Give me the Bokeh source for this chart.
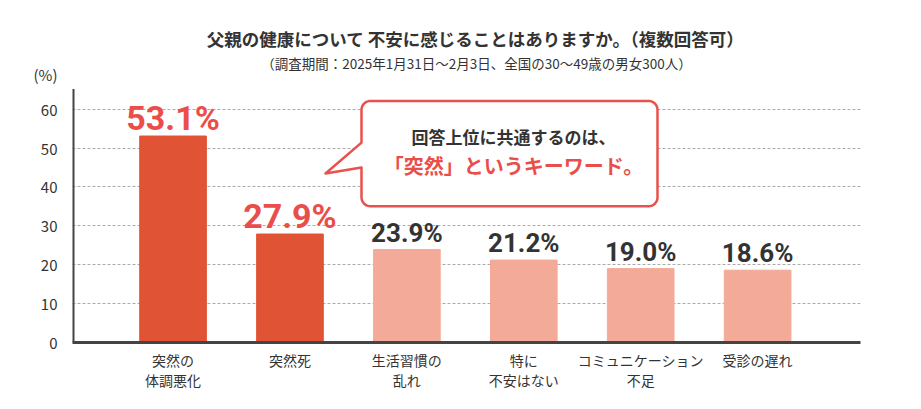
from bokeh.plotting import figure
from bokeh.models import Range1d, FixedTicker, Label, ColumnDataSource
from bokeh.core.properties import value
from bokeh.embed import file_html
from bokeh.resources import INLINE
import math

categories = ["突然の\n体調悪化", "突然死", "生活習慣の\n乱れ", "特に\n不安はない", "コミュニケーション\n不足", "受診の遅れ"]
values = [53.1, 27.9, 23.9, 21.2, 19.0, 18.6]
value_labels = ["53.1%", "27.9%", "23.9%", "21.2%", "19.0%", "18.6%"]
highlight = [True, True, False, False, False, False]
y_ticks = [0, 10, 20, 30, 40, 50, 60]
y_max = 65.2
unit_label = "(%)"
title_text = "父親の健康について 不安に感じることはありますか。（複数回答可）"
subtitle_text = "（調査期間：2025年1月31日〜2月3日、全国の30〜49歳の男女300人）"
bubble_line1 = "回答上位に共通するのは、"
bubble_line2 = "「突然」というキーワード。"

DARK = "#E05334"
LIGHT = "#F4AA98"
RED_TXT = "#EA4E4B"
GRAY_TXT = "#333333"
JP = "Noto Sans CJK JP"

W, H = 905, 393
# frame edges in figure pixels
FL, FR, FT, FB = 72, 860, 0, 344
AX_TOP_PX = 89          # pixel where the value axis ends (y_max)
X0, X1 = -0.86, 5.88
PER_PX = y_max / (FB - AX_TOP_PX)
Y0, Y1 = 0, (FB - FT) * PER_PX

def px2x(px):
    return X0 + (px - FL) / (FR - FL) * (X1 - X0)

def py2y(py):
    return (FB - py) * PER_PX

p = figure(width=W, height=H, output_backend="svg", toolbar_location=None,
           x_range=Range1d(X0, X1), y_range=Range1d(Y0, Y1),
           min_border_left=FL, min_border_right=W - FR,
           min_border_top=FT, min_border_bottom=H - FB)
p.outline_line_color = None
p.background_fill_color = "white"
p.border_fill_color = "white"

# y axis: ticks plus unit label slot
unit_pos = round(py2y(74), 2)
p.yaxis.ticker = FixedTicker(ticks=y_ticks + [unit_pos])
p.yaxis.major_label_overrides = {unit_pos: unit_label}
p.yaxis.axis_line_color = None
p.yaxis.major_tick_line_color = None
p.yaxis.minor_tick_line_color = None
p.yaxis.major_label_text_font = JP
p.yaxis.major_label_text_font_size = "15px"
p.yaxis.major_label_text_color = GRAY_TXT
p.yaxis.major_label_standoff = 9

p.segment(x0=[X0], y0=[0], x1=[X0], y1=[y_max], line_color="#444444", line_width=4)

p.xaxis.ticker = FixedTicker(ticks=list(range(len(categories))))
p.xaxis.major_label_overrides = {i: c for i, c in enumerate(categories)}
p.xaxis.axis_line_color = "#444444"
p.xaxis.axis_line_width = 3
p.xaxis.major_tick_line_color = None
p.xaxis.minor_tick_line_color = None
p.xaxis.major_label_text_font = JP
p.xaxis.major_label_text_font_size = "14px"
p.xaxis.major_label_text_color = GRAY_TXT
p.xaxis.major_label_standoff = 1
p.xaxis.major_label_text_line_height = 1.03

p.xgrid.grid_line_color = None
p.ygrid.ticker = FixedTicker(ticks=[t for t in y_ticks if t > 0])
p.ygrid.grid_line_color = "#AAAAAA"
p.ygrid.grid_line_dash = "3 2"
p.ygrid.grid_line_width = 1

colors = [DARK if h else LIGHT for h in highlight]
src = ColumnDataSource(dict(x=list(range(len(values))), top=values, color=colors))
p.vbar(x="x", top="top", width=0.57, color="color", source=src)

hi = [i for i, h in enumerate(highlight) if h]
lo = [i for i, h in enumerate(highlight) if not h]
src_hi = ColumnDataSource(dict(x=hi, y=[values[i] for i in hi], t=[value_labels[i] for i in hi]))
src_lo = ColumnDataSource(dict(x=lo, y=[values[i] for i in lo], t=[value_labels[i] for i in lo]))
p.text(x="x", y="y", text="t", source=src_hi, text_color=RED_TXT,
       text_font=value("Roboto"), text_font_style="bold", text_font_size="34px",
       text_align="center", text_baseline="bottom", y_offset=2)
p.text(x="x", y="y", text="t", source=src_lo, text_color=GRAY_TXT,
       text_font=value("Roboto"), text_font_style="bold", text_font_size="26px",
       text_align="center", text_baseline="bottom", y_offset=-2)

# speech bubble
bl, br, bt, bb, r = 361, 657, 101, 207, 9
tail_top, tail_bot, tip = 143, 168, (325, 174)
pts = []
def arc(cx, cy, a0, a1, n=8):
    for k in range(n + 1):
        a = math.radians(a0 + (a1 - a0) * k / n)
        pts.append((cx + r * math.cos(a), cy - r * math.sin(a)))
arc(bl + r, bt + r, 180, 90)
arc(br - r, bt + r, 90, 0)
arc(br - r, bb - r, 0, -90)
arc(bl + r, bb - r, -90, -180)
pts.append((bl, tail_bot))
pts.append(tip)
pts.append((bl, tail_top))
p.patch([px2x(a) for a, b in pts], [py2y(b) for a, b in pts],
        fill_color="white", line_color="#E8514C", line_width=2.5, line_join="round")

cx = (bl + br) / 2 + 4
p.add_layout(Label(x=px2x(cx), y=py2y(137), text=bubble_line1, text_align="center",
                   text_baseline="middle", text_font=JP, text_font_style="bold",
                   text_font_size="17px", text_color=GRAY_TXT))
p.add_layout(Label(x=px2x(cx), y=py2y(166), text=bubble_line2, text_align="center",
                   text_baseline="middle", text_font=JP, text_font_style="bold",
                   text_font_size="20px", text_color=RED_TXT))

# titles
p.add_layout(Label(x=px2x(475), y=py2y(38), text=title_text, text_align="center",
                   text_baseline="middle", text_font=JP, text_font_style="bold",
                   text_font_size="17.5px", text_color=GRAY_TXT))
p.add_layout(Label(x=px2x(476), y=py2y(63), text=subtitle_text, text_align="center",
                   text_baseline="middle", text_font=JP,
                   text_font_size="13.5px", text_color=GRAY_TXT))

open("out.html", "w").write(file_html(p, INLINE))
